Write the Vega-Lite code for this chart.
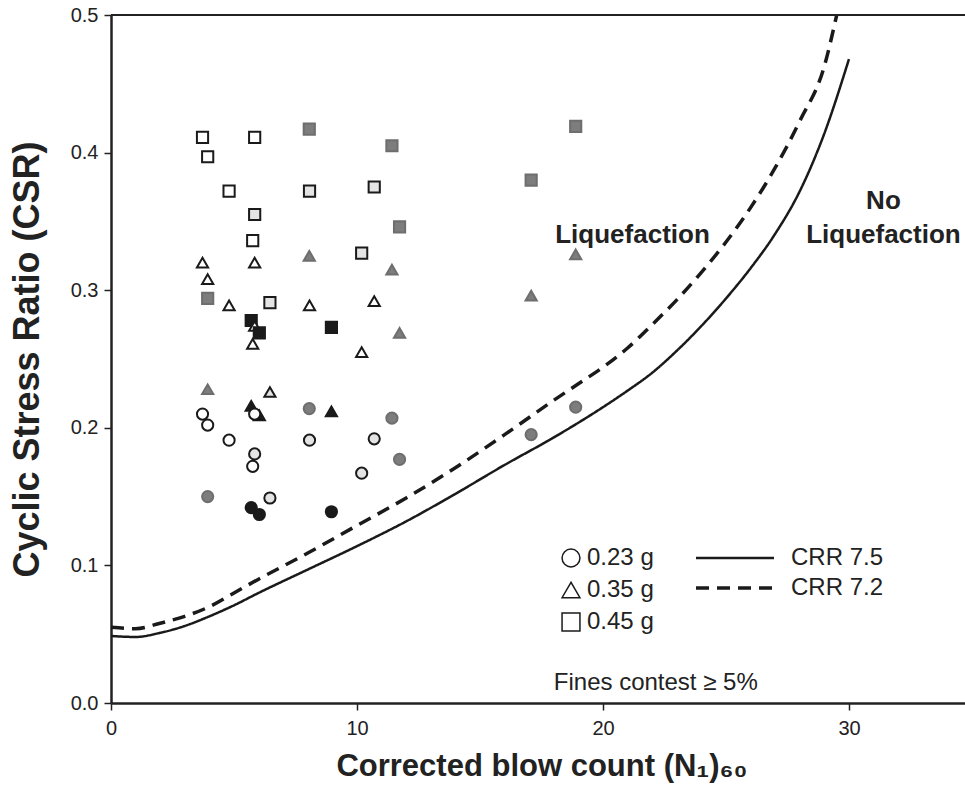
{
  "$schema": "https://vega.github.io/schema/vega-lite/v6.json",
  "width": 861,
  "height": 688,
  "autosize": "none",
  "padding": {"left": 111, "top": 15, "right": 0, "bottom": 87},
  "background": "white",
  "config": {
    "view": {"stroke": null},
    "font": "Liberation Sans",
    "axis": {"grid": false, "labelFlush": false, "domainColor": "#222", "domainWidth": 2.5, "tickColor": "#222", "tickWidth": 1.5, "tickSize": 7, "labelColor": "#222", "labelFont": "Liberation Sans", "labelFontSize": 20, "titleColor": "#222", "titleFont": "Liberation Sans", "titleFontWeight": "bold", "titleFontSize": 31},
    "legend": {"labelFont": "Liberation Sans", "labelFontSize": 24, "labelColor": "#222", "padding": 0}
  },
  "datasets": {
    "points": [
      {"N": 3.72, "CSR": 0.411, "pga": "0.45 g", "state": "open"},
      {"N": 5.84, "CSR": 0.411, "pga": "0.45 g", "state": "open"},
      {"N": 8.06, "CSR": 0.417, "pga": "0.45 g", "state": "grey"},
      {"N": 11.42, "CSR": 0.405, "pga": "0.45 g", "state": "grey"},
      {"N": 3.93, "CSR": 0.397, "pga": "0.45 g", "state": "open"},
      {"N": 4.80, "CSR": 0.372, "pga": "0.45 g", "state": "open"},
      {"N": 8.07, "CSR": 0.372, "pga": "0.45 g", "state": "light"},
      {"N": 10.70, "CSR": 0.375, "pga": "0.45 g", "state": "light"},
      {"N": 5.84, "CSR": 0.355, "pga": "0.45 g", "state": "light"},
      {"N": 11.73, "CSR": 0.346, "pga": "0.45 g", "state": "grey"},
      {"N": 5.76, "CSR": 0.336, "pga": "0.45 g", "state": "open"},
      {"N": 10.19, "CSR": 0.327, "pga": "0.45 g", "state": "light"},
      {"N": 3.93, "CSR": 0.294, "pga": "0.45 g", "state": "grey"},
      {"N": 6.46, "CSR": 0.291, "pga": "0.45 g", "state": "light"},
      {"N": 5.70, "CSR": 0.278, "pga": "0.45 g", "state": "black"},
      {"N": 8.96, "CSR": 0.273, "pga": "0.45 g", "state": "black"},
      {"N": 18.89, "CSR": 0.419, "pga": "0.45 g", "state": "grey"},
      {"N": 17.08, "CSR": 0.380, "pga": "0.45 g", "state": "grey"},
      {"N": 8.06, "CSR": 0.325, "pga": "0.35 g", "state": "grey"},
      {"N": 3.72, "CSR": 0.320, "pga": "0.35 g", "state": "open"},
      {"N": 5.84, "CSR": 0.320, "pga": "0.35 g", "state": "open"},
      {"N": 11.42, "CSR": 0.315, "pga": "0.35 g", "state": "grey"},
      {"N": 3.93, "CSR": 0.308, "pga": "0.35 g", "state": "open"},
      {"N": 4.80, "CSR": 0.289, "pga": "0.35 g", "state": "open"},
      {"N": 8.07, "CSR": 0.289, "pga": "0.35 g", "state": "open"},
      {"N": 10.70, "CSR": 0.292, "pga": "0.35 g", "state": "open"},
      {"N": 5.84, "CSR": 0.274, "pga": "0.35 g", "state": "open"},
      {"N": 11.73, "CSR": 0.269, "pga": "0.35 g", "state": "grey"},
      {"N": 5.76, "CSR": 0.261, "pga": "0.35 g", "state": "open"},
      {"N": 10.19, "CSR": 0.255, "pga": "0.35 g", "state": "open"},
      {"N": 18.89, "CSR": 0.326, "pga": "0.35 g", "state": "grey"},
      {"N": 17.08, "CSR": 0.296, "pga": "0.35 g", "state": "grey"},
      {"N": 3.93, "CSR": 0.228, "pga": "0.35 g", "state": "grey"},
      {"N": 6.46, "CSR": 0.226, "pga": "0.35 g", "state": "light"},
      {"N": 5.70, "CSR": 0.216, "pga": "0.35 g", "state": "black"},
      {"N": 6.03, "CSR": 0.209, "pga": "0.35 g", "state": "black"},
      {"N": 8.96, "CSR": 0.212, "pga": "0.35 g", "state": "black"},
      {"N": 6.03, "CSR": 0.269, "pga": "0.45 g", "state": "black"},
      {"N": 8.06, "CSR": 0.214, "pga": "0.23 g", "state": "grey"},
      {"N": 3.72, "CSR": 0.210, "pga": "0.23 g", "state": "open"},
      {"N": 5.84, "CSR": 0.210, "pga": "0.23 g", "state": "open"},
      {"N": 11.42, "CSR": 0.207, "pga": "0.23 g", "state": "grey"},
      {"N": 3.93, "CSR": 0.202, "pga": "0.23 g", "state": "open"},
      {"N": 4.80, "CSR": 0.191, "pga": "0.23 g", "state": "open"},
      {"N": 8.07, "CSR": 0.191, "pga": "0.23 g", "state": "light"},
      {"N": 10.70, "CSR": 0.192, "pga": "0.23 g", "state": "light"},
      {"N": 5.84, "CSR": 0.181, "pga": "0.23 g", "state": "light"},
      {"N": 11.73, "CSR": 0.177, "pga": "0.23 g", "state": "grey"},
      {"N": 5.76, "CSR": 0.172, "pga": "0.23 g", "state": "open"},
      {"N": 10.19, "CSR": 0.167, "pga": "0.23 g", "state": "light"},
      {"N": 3.93, "CSR": 0.150, "pga": "0.23 g", "state": "grey"},
      {"N": 6.46, "CSR": 0.149, "pga": "0.23 g", "state": "light"},
      {"N": 5.70, "CSR": 0.142, "pga": "0.23 g", "state": "black"},
      {"N": 6.03, "CSR": 0.137, "pga": "0.23 g", "state": "black"},
      {"N": 8.96, "CSR": 0.139, "pga": "0.23 g", "state": "black"},
      {"N": 18.89, "CSR": 0.215, "pga": "0.23 g", "state": "grey"},
      {"N": 17.08, "CSR": 0.195, "pga": "0.23 g", "state": "grey"}
    ],
    "curves": [
      {"N": 0, "CSR": 0.0487, "curve": "CRR 7.5"},
      {"N": 1, "CSR": 0.048, "curve": "CRR 7.5"},
      {"N": 2, "CSR": 0.051, "curve": "CRR 7.5"},
      {"N": 3, "CSR": 0.056, "curve": "CRR 7.5"},
      {"N": 4, "CSR": 0.063, "curve": "CRR 7.5"},
      {"N": 5, "CSR": 0.071, "curve": "CRR 7.5"},
      {"N": 6, "CSR": 0.080, "curve": "CRR 7.5"},
      {"N": 8, "CSR": 0.097, "curve": "CRR 7.5"},
      {"N": 10, "CSR": 0.114, "curve": "CRR 7.5"},
      {"N": 12, "CSR": 0.132, "curve": "CRR 7.5"},
      {"N": 14, "CSR": 0.152, "curve": "CRR 7.5"},
      {"N": 16, "CSR": 0.173, "curve": "CRR 7.5"},
      {"N": 18, "CSR": 0.193, "curve": "CRR 7.5"},
      {"N": 20, "CSR": 0.215, "curve": "CRR 7.5"},
      {"N": 21, "CSR": 0.227, "curve": "CRR 7.5"},
      {"N": 22, "CSR": 0.240, "curve": "CRR 7.5"},
      {"N": 23, "CSR": 0.256, "curve": "CRR 7.5"},
      {"N": 24, "CSR": 0.274, "curve": "CRR 7.5"},
      {"N": 25, "CSR": 0.294, "curve": "CRR 7.5"},
      {"N": 26, "CSR": 0.316, "curve": "CRR 7.5"},
      {"N": 27, "CSR": 0.341, "curve": "CRR 7.5"},
      {"N": 28, "CSR": 0.372, "curve": "CRR 7.5"},
      {"N": 29, "CSR": 0.414, "curve": "CRR 7.5"},
      {"N": 30, "CSR": 0.468, "curve": "CRR 7.5"},
      {"N": 0, "CSR": 0.055, "curve": "CRR 7.2"},
      {"N": 1, "CSR": 0.054, "curve": "CRR 7.2"},
      {"N": 2, "CSR": 0.058, "curve": "CRR 7.2"},
      {"N": 3, "CSR": 0.063, "curve": "CRR 7.2"},
      {"N": 4, "CSR": 0.070, "curve": "CRR 7.2"},
      {"N": 5, "CSR": 0.080, "curve": "CRR 7.2"},
      {"N": 6, "CSR": 0.090, "curve": "CRR 7.2"},
      {"N": 8, "CSR": 0.109, "curve": "CRR 7.2"},
      {"N": 10, "CSR": 0.129, "curve": "CRR 7.2"},
      {"N": 12, "CSR": 0.149, "curve": "CRR 7.2"},
      {"N": 14, "CSR": 0.171, "curve": "CRR 7.2"},
      {"N": 16, "CSR": 0.195, "curve": "CRR 7.2"},
      {"N": 18, "CSR": 0.220, "curve": "CRR 7.2"},
      {"N": 19, "CSR": 0.232, "curve": "CRR 7.2"},
      {"N": 20, "CSR": 0.244, "curve": "CRR 7.2"},
      {"N": 21, "CSR": 0.258, "curve": "CRR 7.2"},
      {"N": 22, "CSR": 0.275, "curve": "CRR 7.2"},
      {"N": 23, "CSR": 0.293, "curve": "CRR 7.2"},
      {"N": 24, "CSR": 0.313, "curve": "CRR 7.2"},
      {"N": 25, "CSR": 0.335, "curve": "CRR 7.2"},
      {"N": 26, "CSR": 0.360, "curve": "CRR 7.2"},
      {"N": 27, "CSR": 0.389, "curve": "CRR 7.2"},
      {"N": 28, "CSR": 0.423, "curve": "CRR 7.2"},
      {"N": 29, "CSR": 0.463, "curve": "CRR 7.2"},
      {"N": 29.5, "CSR": 0.5, "curve": "CRR 7.2"}
    ],
    "labels": [
      {"N": 21.2, "CSR": 0.340, "text": "Liquefaction"},
      {"N": 31.4, "CSR": 0.365, "text": "No"},
      {"N": 31.4, "CSR": 0.340, "text": "Liquefaction"}
    ],
    "notes": [
      {"N": 18.0, "CSR": 0.0145, "text": "Fines contest ≥ 5%"}
    ]
  },
  "layer": [
    {
      "data": {"name": "curves"},
      "mark": {"type": "line", "color": "#1a1a1a", "clip": true, "interpolate": "monotone"},
      "encoding": {
        "x": {"field": "N", "type": "quantitative", "scale": {"domain": [0, 35]}, "axis": {"values": [0, 10, 20, 30], "title": "Corrected blow count (N₁)₆₀", "labelPadding": 8, "titlePadding": 13}},
        "y": {"field": "CSR", "type": "quantitative", "scale": {"domain": [0, 0.5]}, "axis": {"values": [0, 0.1, 0.2, 0.3, 0.4, 0.5], "format": ".1f", "title": "Cyclic Stress Ratio (CSR)", "titleFontSize": 36, "labelPadding": 6, "titlePadding": 24}},
        "strokeDash": {"field": "curve", "type": "nominal", "scale": {"domain": ["CRR 7.5", "CRR 7.2"], "range": [[1, 0], [13, 8]]}, "legend": {"title": null, "orient": "none", "legendX": 612, "legendY": 531, "symbolType": "M-4,0H4", "symbolSize": 380, "symbolStrokeColor": "#1a1a1a", "symbolStrokeWidth": 3, "labelOffset": 44, "rowPadding": 6}},
        "strokeWidth": {"field": "curve", "type": "nominal", "scale": {"domain": ["CRR 7.5", "CRR 7.2"], "range": [2.5, 3.5]}, "legend": null},
        "order": {"field": "N", "type": "quantitative"}
      }
    },
    {
      "data": {"name": "points"},
      "mark": {"type": "point", "filled": true, "size": 125, "strokeWidth": 2, "opacity": 1},
      "encoding": {
        "x": {"field": "N", "type": "quantitative"},
        "y": {"field": "CSR", "type": "quantitative"},
        "shape": {"field": "pga", "type": "nominal", "scale": {"domain": ["0.23 g", "0.35 g", "0.45 g"], "range": ["circle", "triangle-up", "square"]}, "legend": {"title": null, "orient": "none", "legendX": 448, "legendY": 531, "symbolSize": 320, "symbolFillColor": "white", "symbolStrokeColor": "#1a1a1a", "symbolStrokeWidth": 1.5, "symbolOpacity": 1, "labelOffset": 4, "rowPadding": 8}},
        "fill": {"field": "state", "type": "nominal", "scale": {"domain": ["open", "light", "grey", "black"], "range": ["#ffffff", "#e4e4e4", "#7d7d7d", "#1a1a1a"]}, "legend": null},
        "stroke": {"field": "state", "type": "nominal", "scale": {"domain": ["open", "light", "grey", "black"], "range": ["#1a1a1a", "#1a1a1a", "#6e6e6e", "#1a1a1a"]}, "legend": null}
      }
    },
    {
      "data": {"name": "labels"},
      "mark": {"type": "text", "font": "Liberation Sans", "fontWeight": "bold", "fontSize": 26, "color": "#222", "align": "center", "baseline": "middle"},
      "encoding": {
        "x": {"field": "N", "type": "quantitative"},
        "y": {"field": "CSR", "type": "quantitative"},
        "text": {"field": "text"}
      }
    },
    {
      "data": {"name": "notes"},
      "mark": {"type": "text", "font": "Liberation Sans", "fontSize": 24, "color": "#222", "align": "left", "baseline": "middle"},
      "encoding": {
        "x": {"field": "N", "type": "quantitative"},
        "y": {"field": "CSR", "type": "quantitative"},
        "text": {"field": "text"}
      }
    },
    {
      "mark": {"type": "rule", "color": "#222", "strokeWidth": 2},
      "data": {"values": [{"top": 0.5}]},
      "encoding": {"y": {"field": "top", "type": "quantitative"}}
    }
  ]
}
